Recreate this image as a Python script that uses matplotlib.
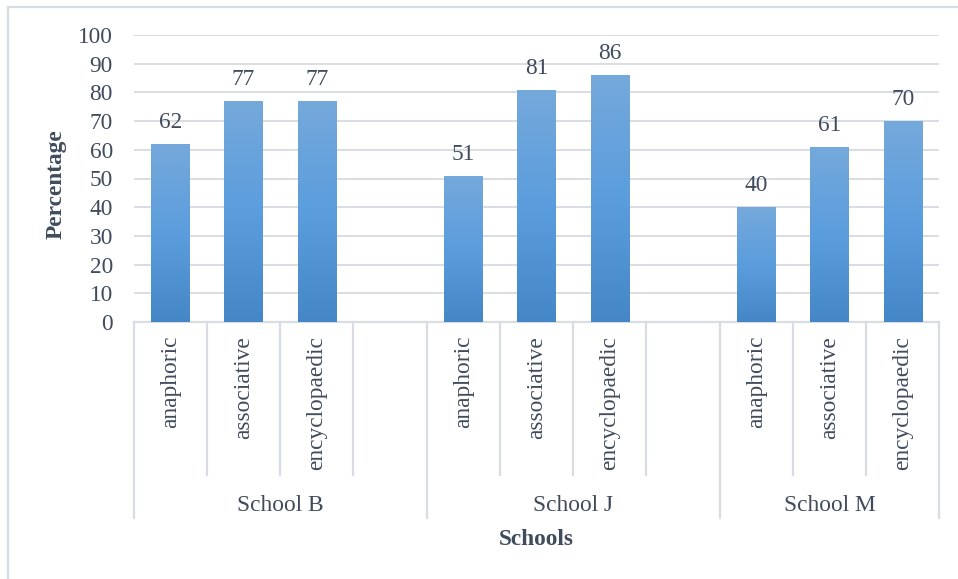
import numpy as np
import matplotlib.pyplot as plt
from matplotlib.colors import LinearSegmentedColormap
from matplotlib.lines import Line2D
from matplotlib.transforms import blended_transform_factory

schools = ["School B", "School J", "School M"]
reference_types = ["anaphoric", "associative", "encyclopaedic"]
school_b = [62, 77, 77]
school_j = [51, 81, 86]
school_m = [40, 61, 70]
y_ticks = [0, 10, 20, 30, 40, 50, 60, 70, 80, 90, 100]

TEXT = "#404b5c"
GRID = "#d9dde3"
FS = 16.8
plt.rcParams["font.family"] = ["Liberation Serif", "DejaVu Serif"]

W, H = 958, 579
fig = plt.figure(figsize=(W / 100, H / 100), dpi=100)


def fx(px):
    return px / W


def fy(py):
    return 1 - py / H


ax = fig.add_axes([fx(133.5), fy(322), fx(939.3) - fx(133.5), fy(35) - fy(322)])

# each school gets 4 slots on the axis (3 bars + a blank gap), last one has no gap
values = [school_b, school_j, school_m]
slots, heights, labels = [], [], []
for g, vals in enumerate(values):
    for i, v in enumerate(vals):
        slots.append(g * 4 + i)
        heights.append(v)
        labels.append(reference_types[i])
n_slots = 11

bars = ax.bar(slots, heights, width=0.52, color="none", edgecolor="none", zorder=3)

# vertical gradient fill, lighter at the top of each bar
cmap = LinearSegmentedColormap.from_list("barfill", ["#4486c6", "#5b9ddd", "#75a9db"])
grad = np.linspace(0, 1, 256).reshape(-1, 1)
for b in bars:
    x0, w, h = b.get_x(), b.get_width(), b.get_height()
    im = ax.imshow(grad, cmap=cmap, origin="lower", aspect="auto",
                   extent=(x0, x0 + w, 0, h), zorder=3, interpolation="bilinear")
    im.set_clip_path(b)

for s, v in zip(slots, heights):
    ax.annotate(str(v), (s, v), xytext=(0, 11.5), textcoords="offset points",
                ha="center", va="baseline", fontsize=FS, color=TEXT)

ax.set_xlim(-0.5, n_slots - 0.5)
ax.set_ylim(0, 100)
ax.set_yticks(y_ticks)
ax.set_xticks([])
ax.yaxis.grid(True, color=GRID, linewidth=1.4, zorder=0)
ax.set_axisbelow(True)
for side in ["top", "right", "left"]:
    ax.spines[side].set_visible(False)
ax.spines["bottom"].set_color(GRID)
ax.spines["bottom"].set_linewidth(1.6)
ax.tick_params(axis="y", length=0, pad=14.8, labelsize=FS, labelcolor=TEXT)

# two-level category axis below the plot
trans = blended_transform_factory(ax.transData, fig.transFigure)
for k in range(n_slots + 1):
    xb = k - 0.5
    long_line = k in (0, 4, 8, n_slots)
    bottom = 518 if long_line else 475
    fig.add_artist(Line2D([xb, xb], [fy(322), fy(bottom)], transform=trans,
                          color=GRID, linewidth=1.6))

for s, lab in zip(slots, labels):
    fig.text(s, fy(336), lab, transform=trans, rotation=90, ha="center", va="top",
             fontsize=FS, color=TEXT)

for g, name in enumerate(schools):
    first = g * 4 - 0.5
    last = min(g * 4 + 3.5, n_slots - 0.5)
    fig.text((first + last) / 2, fy(511), name, transform=trans, ha="center",
             va="baseline", fontsize=FS, color=TEXT)

fig.text(fx(536.5), fy(545), "Schools", ha="center", va="baseline", fontsize=FS,
         fontweight="bold", color=TEXT)
fig.text(fx(56), fy(184), "Percentage", rotation=90, ha="center", va="center",
         fontsize=FS, fontweight="bold", color=TEXT)

# chart frame
fig.add_artist(Line2D([fx(8), fx(8)], [fy(7), 0], color=GRID, linewidth=1.6))
fig.add_artist(Line2D([fx(8), 1], [fy(7), fy(7)], color=GRID, linewidth=1.6))

fig.savefig("out.png", dpi=100)
